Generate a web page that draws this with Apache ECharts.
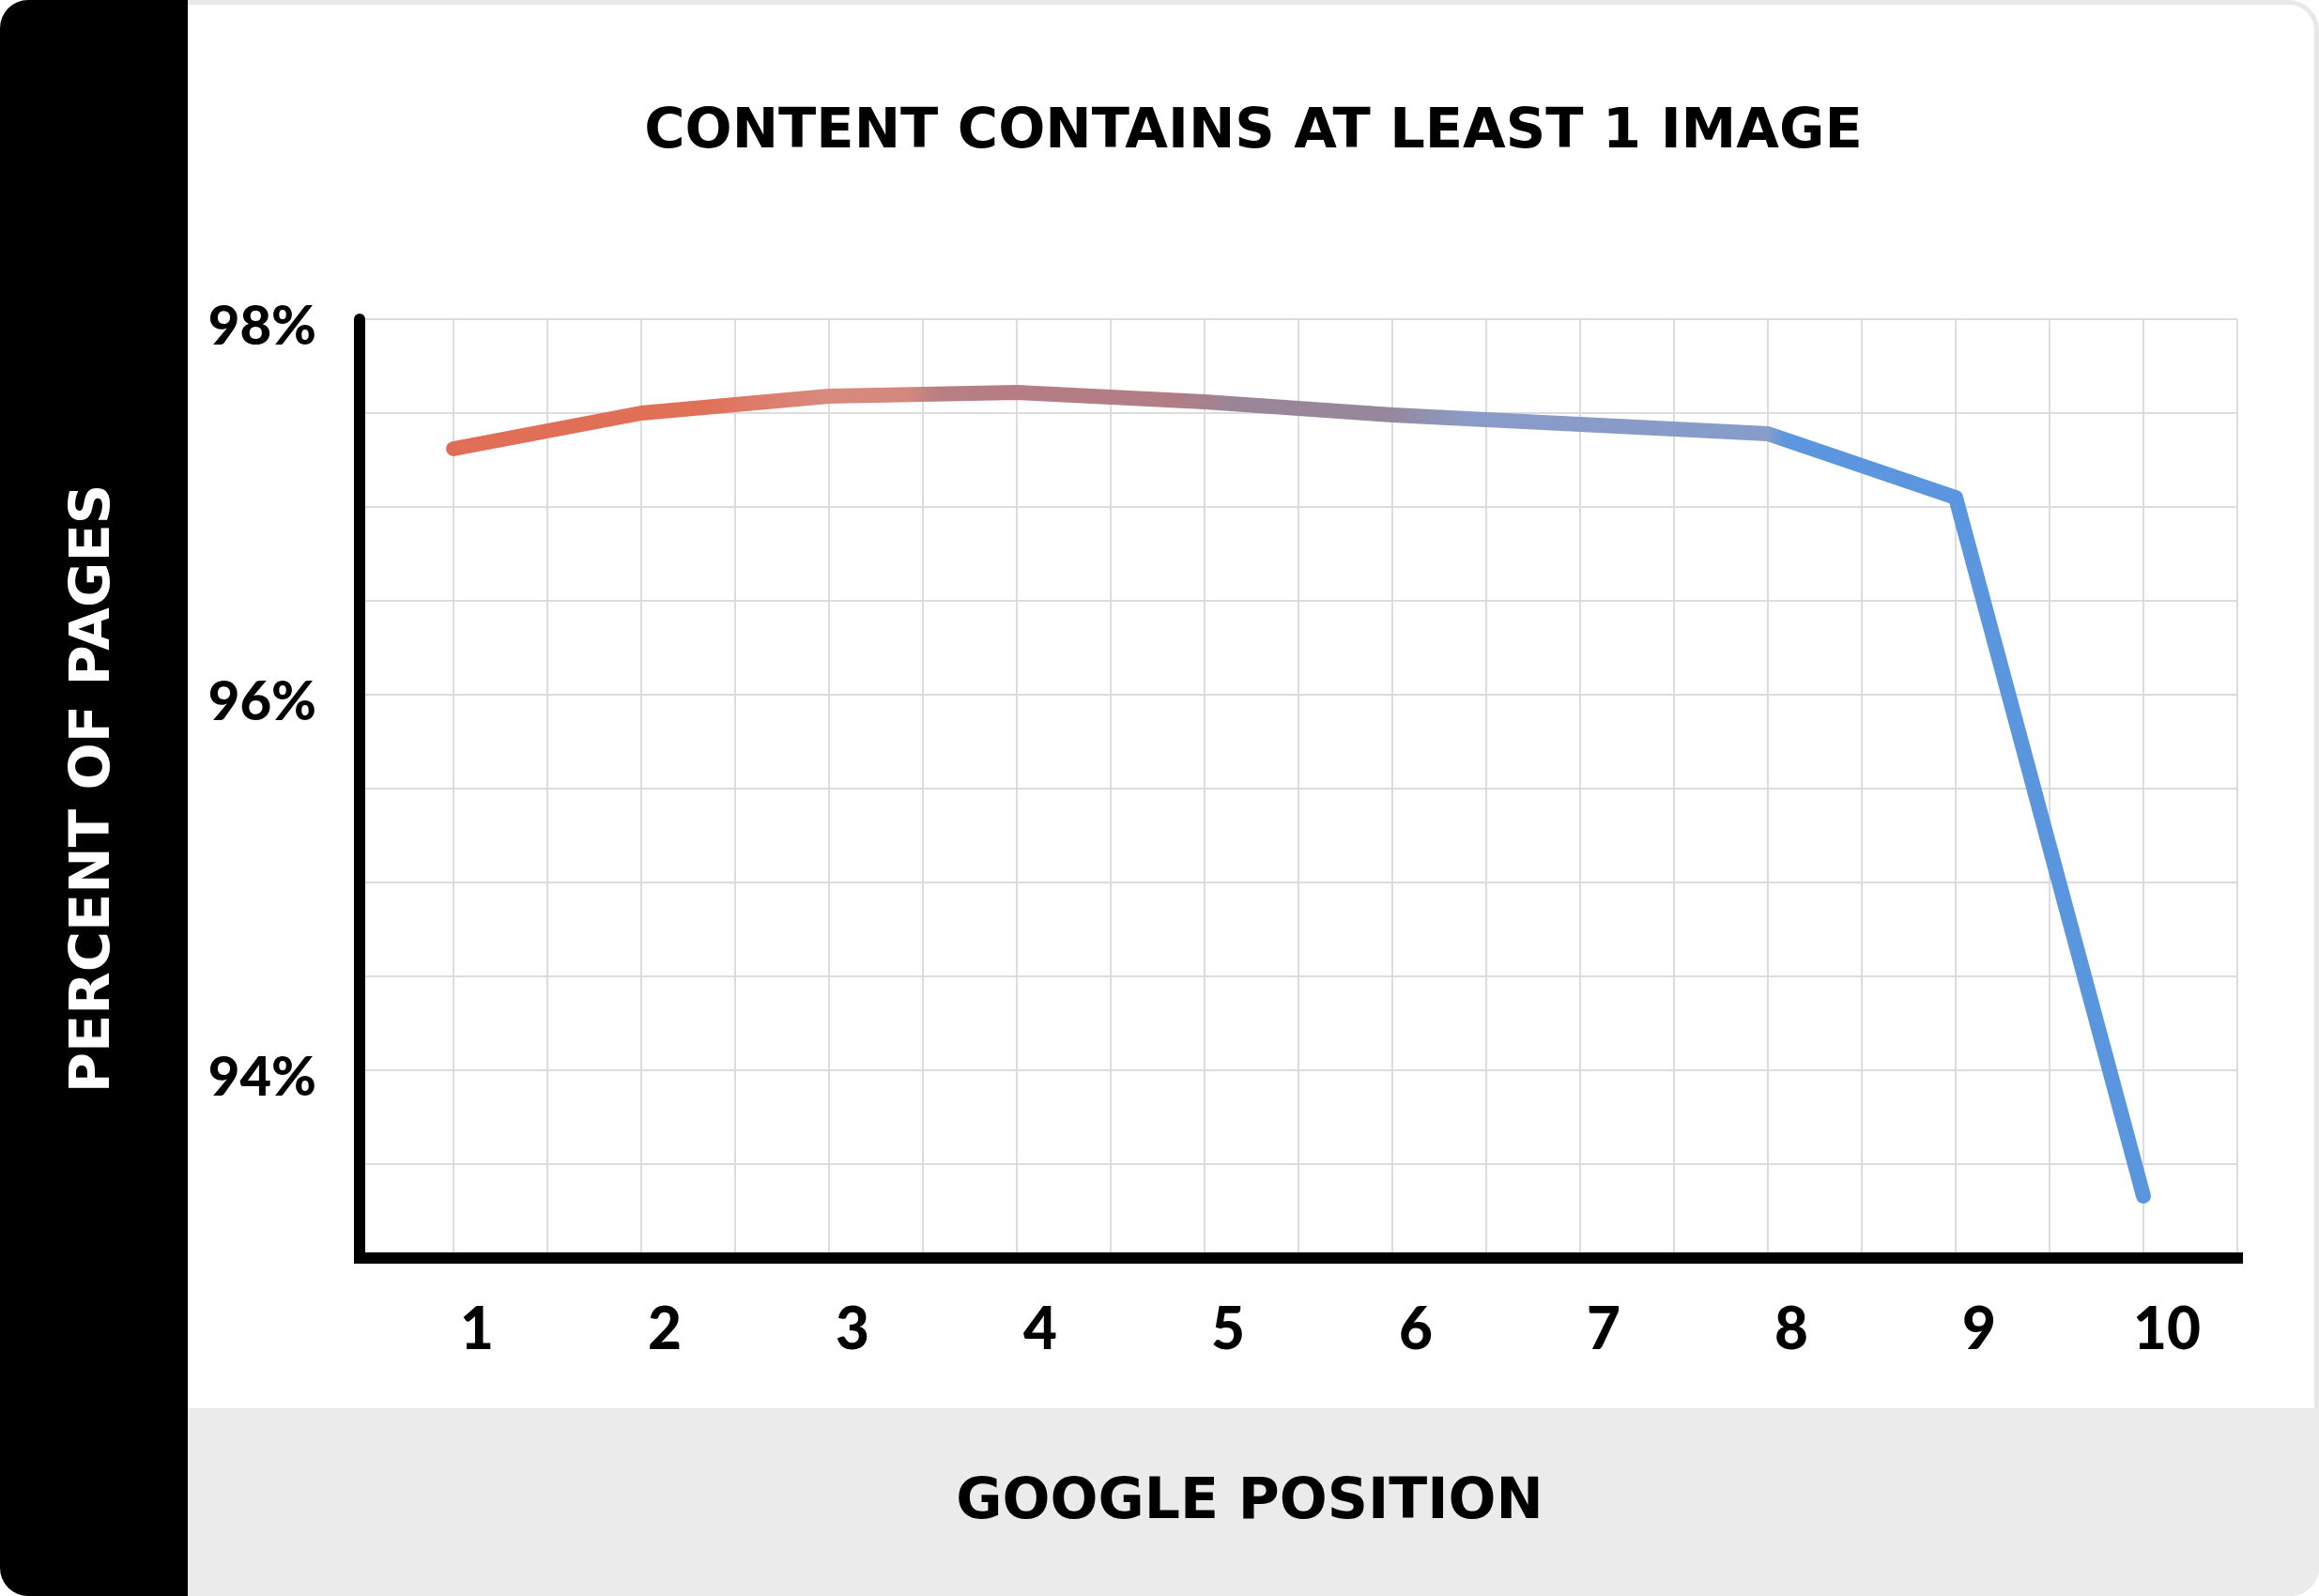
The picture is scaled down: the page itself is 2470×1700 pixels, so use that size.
<!DOCTYPE html>
<html>
<head>
<meta charset="utf-8">
<style>
  html, body { margin: 0; padding: 0; background: #ffffff; }
  #chart { width: 2470px; height: 1700px; }
</style>
<script src="https://cdn.jsdelivr.net/npm/echarts@6/dist/echarts.min.js"></script>
</head>
<body>
<div id="chart"></div>
<script>
// ---- data ----
const chartTitle = 'CONTENT CONTAINS AT LEAST 1 IMAGE';
const xAxisTitle = 'GOOGLE POSITION';
const yAxisTitle = 'PERCENT OF PAGES';
const positions = [1, 2, 3, 4, 5, 6, 7, 8, 9, 10];
const percentImage = [97.31, 97.50, 97.59, 97.61, 97.56, 97.49, 97.44, 97.39, 97.05, 93.33];
const yTickLabels = [94, 96, 98];

const chart = echarts.init(document.getElementById('chart'), null, { renderer: 'canvas' });

const isInt = v => Math.abs(v - Math.round(v)) < 1e-6;

const option = {
  backgroundColor: '#ffffff',
  animation: false,
  graphic: [
    { type: 'rect', z: -10, shape: { x: 2.5, y: 2.5, width: 2465, height: 1695, r: 30 },
      style: { fill: '#ffffff', stroke: '#e8e8e8', lineWidth: 5 } },
    { type: 'rect', z: -9, shape: { x: 200, y: 1500, width: 2270, height: 200, r: [0, 0, 30, 0] },
      style: { fill: '#ebebeb' } },
    { type: 'rect', z: -9, shape: { x: 0, y: 0, width: 200, height: 1700, r: [30, 0, 0, 30] },
      style: { fill: '#000000' } }
  ],
  title: {
    text: chartTitle,
    left: 1335,
    top: 142,
    padding: 0,
    textAlign: 'center',
    textVerticalAlign: 'middle',
    textStyle: { fontFamily: 'DejaVu Sans', fontWeight: 'bold', fontSize: 59, color: '#000000' }
  },
  grid: { left: 383, right: 87, top: 340, bottom: 360, containLabel: false },
  xAxis: {
    type: 'value',
    min: 0.5, max: 10.5, interval: 0.5,
    name: xAxisTitle,
    nameLocation: 'middle',
    nameGap: 261,
    nameTextStyle: { fontFamily: 'DejaVu Sans', fontWeight: 'bold', fontSize: 60, color: '#000000',
      verticalAlign: 'middle', padding: [0, 104, 0, 0] },
    axisLine: { show: true, onZero: false, lineStyle: { color: '#000000', width: 12, cap: 'square' } },
    axisTick: { show: false },
    splitLine: { show: true, lineStyle: { color: '#dcdcdc', width: 2 } },
    axisLabel: {
      margin: 46,
      fontFamily: 'Lato', fontWeight: 900, fontSize: 62, color: '#000000',
      padding: [0, 0, 0, 50],
      formatter: v => (isInt(v) && positions.indexOf(Math.round(v)) >= 0) ? String(Math.round(v)) : ''
    }
  },
  yAxis: {
    type: 'value',
    min: 93, max: 98, interval: 0.5,
    name: yAxisTitle,
    nameLocation: 'middle',
    nameRotate: 90,
    nameGap: 282,
    nameTextStyle: { fontFamily: 'DejaVu Sans', fontWeight: 'bold', fontSize: 59, color: '#ffffff',
      align: 'center', verticalAlign: 'middle' },
    axisLine: { show: true, onZero: false, lineStyle: { color: '#000000', width: 12 } },
    axisTick: { show: false },
    splitLine: { show: true, lineStyle: { color: '#dcdcdc', width: 2 } },
    axisLabel: {
      margin: 46,
      fontFamily: 'Lato', fontWeight: 900, fontSize: 58, color: '#000000',
      formatter: v => (isInt(v) && yTickLabels.indexOf(Math.round(v)) >= 0) ? '{p|' + Math.round(v) + '%}' : '',
      rich: {
        p: { fontFamily: 'Lato', fontWeight: 900, fontSize: 58, color: '#000000', padding: [16, 0, 0, 0] }
      }
    }
  },
  series: [{
    type: 'line',
    data: positions.map((p, i) => [p, percentImage[i]]),
    symbol: 'none',
    z: 5,
    lineStyle: {
      width: 16,
      cap: 'round',
      join: 'round',
      color: {
        type: 'linear', x: 0, y: 0, x2: 1, y2: 0,
        colorStops: [
          { offset: 0.00, color: '#e06e57' },
          { offset: 0.15, color: '#e07058' },
          { offset: 0.22, color: '#d9897d' },
          { offset: 0.27, color: '#d4887e' },
          { offset: 0.29, color: '#b77e83' },
          { offset: 0.43, color: '#b17d85' },
          { offset: 0.46, color: '#9a8597' },
          { offset: 0.55, color: '#96879a' },
          { offset: 0.60, color: '#8a9bc8' },
          { offset: 0.775, color: '#879cc9' },
          { offset: 0.785, color: '#5b96de' },
          { offset: 1.00, color: '#5a96de' }
        ]
      }
    }
  }]
};

chart.setOption(option);
</script>
</body>
</html>
